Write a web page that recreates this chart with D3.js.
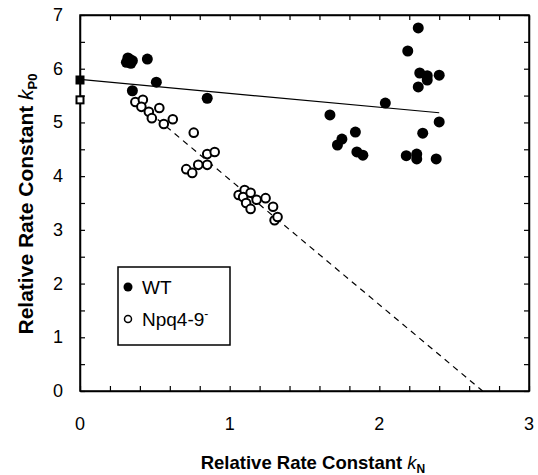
<!DOCTYPE html>
<html>
<head>
<meta charset="utf-8">
<script src="https://cdn.jsdelivr.net/npm/d3@7"></script>
<style>
  body { margin: 0; background: #fff; }
  text { font-family: "Liberation Sans", Arial, sans-serif; fill: #000; }
</style>
</head>
<body>
<svg id="chart" width="538" height="475"></svg>
<script>
// WT (filled circles) : kN, kP0
const wtKN = [0.31, 0.33, 0.35, 0.34, 0.32, 0.45, 0.51, 0.35, 0.85,
  2.26, 2.19, 2.27, 2.32, 2.32, 2.40, 2.26, 2.04, 1.67, 2.40, 1.84, 2.29,
  1.75, 1.72, 1.85, 1.89, 2.18, 2.25, 2.25, 2.38];
const wtKP0 = [6.12, 6.18, 6.15, 6.10, 6.20, 6.18, 5.75, 5.59, 5.45,
  6.76, 6.33, 5.92, 5.87, 5.79, 5.88, 5.66, 5.36, 5.14, 5.01, 4.82, 4.80,
  4.69, 4.58, 4.45, 4.39, 4.38, 4.41, 4.32, 4.32];

// Npq4-9 (open circles)
const npqKN = [0.37, 0.42, 0.41, 0.46, 0.48, 0.53, 0.56, 0.62, 0.76, 0.85, 0.90,
  0.71, 0.75, 0.79, 0.85, 1.06, 1.10, 1.09, 1.14, 1.11, 1.14, 1.18,
  1.24, 1.29, 1.30, 1.32];
const npqKP0 = [5.38, 5.42, 5.29, 5.20, 5.08, 5.27, 4.97, 5.06, 4.81, 4.41, 4.45,
  4.13, 4.06, 4.21, 4.21, 3.65, 3.74, 3.61, 3.69, 3.50, 3.39, 3.56,
  3.59, 3.43, 3.18, 3.24];

// values at kN = 0 (squares)
const wtZero = 5.79;
const npqZero = 5.42;

// fitted lines [x0, y0, x1, y1]
const wtFit = [0, 5.80, 2.40, 5.18];
const npqFit = [0.35, 5.45, 2.69, 0.0];

const xTicks = [0, 1, 2, 3];
const yTicks = [0, 1, 2, 3, 4, 5, 6, 7];

const svg = d3.select("#chart");
const plot = { left: 80, right: 529, top: 15, bottom: 391 };

const x = d3.scaleLinear().domain([0, 3]).range([plot.left, plot.right]);
const y = d3.scaleLinear().domain([0, 7]).range([plot.bottom, plot.top]);

/* axes */

const tickLen = 5;
const xMinor = d3.range(0, 3.0001, 0.2);
const yMinor = d3.range(0, 7.0001, 0.5);

svg.append("g")
  .attr("transform", `translate(0,${plot.bottom})`)
  .call(d3.axisBottom(x).tickValues(xMinor).tickSizeInner(-tickLen).tickSizeOuter(0).tickFormat(""));
svg.append("g")
  .attr("transform", `translate(0,${plot.top})`)
  .call(d3.axisTop(x).tickValues(xMinor).tickSizeInner(-tickLen).tickSizeOuter(0).tickFormat(""));
svg.append("g")
  .attr("transform", `translate(${plot.left},0)`)
  .call(d3.axisLeft(y).tickValues(yMinor).tickSizeInner(-tickLen).tickSizeOuter(0).tickFormat(""));
svg.append("g")
  .attr("transform", `translate(${plot.right},0)`)
  .call(d3.axisRight(y).tickValues(yMinor).tickSizeInner(-tickLen).tickSizeOuter(0).tickFormat(""));

svg.selectAll(".domain").attr("stroke", "#000").attr("stroke-width", 1.5);
svg.selectAll(".tick line").attr("stroke", "#000").attr("stroke-width", 1.2);

svg.append("rect")
  .attr("x", plot.left).attr("y", plot.top)
  .attr("width", plot.right - plot.left).attr("height", plot.bottom - plot.top)
  .attr("fill", "none").attr("stroke", "#000").attr("stroke-width", 1.5);

svg.append("g").selectAll("text")
  .data(xTicks).enter().append("text")
  .attr("x", d => x(d)).attr("y", 430)
  .attr("text-anchor", "middle").attr("font-size", 18)
  .text(d => d);

svg.append("g").selectAll("text")
  .data(yTicks).enter().append("text")
  .attr("x", 63).attr("y", d => y(d) + 6)
  .attr("text-anchor", "end").attr("font-size", 18)
  .text(d => d);

/* titles */

const xTitle = svg.append("text")
  .attr("x", 313).attr("y", 469)
  .attr("text-anchor", "middle").attr("font-size", 18.5).attr("font-weight", "bold");
xTitle.append("tspan").text("Relative Rate Constant ");
xTitle.append("tspan").attr("font-style", "italic").attr("font-weight", "normal").text("k");
xTitle.append("tspan").attr("font-size", 12).attr("dy", 4).text("N");

const yTitle = svg.append("text")
  .attr("transform", "translate(33,204) rotate(-90)")
  .attr("text-anchor", "middle").attr("font-size", 21).attr("font-weight", "bold");
yTitle.append("tspan").text("Relative Rate Constant ");
yTitle.append("tspan").attr("font-style", "italic").attr("font-weight", "normal").text("k");
yTitle.append("tspan").attr("font-size", 13).attr("dy", 4).text("P0");

/* fit lines */

svg.append("line")
  .attr("x1", x(wtFit[0])).attr("y1", y(wtFit[1]))
  .attr("x2", x(wtFit[2])).attr("y2", y(wtFit[3]))
  .attr("stroke", "#000").attr("stroke-width", 1.2);

svg.append("line")
  .attr("x1", x(npqFit[0])).attr("y1", y(npqFit[1]))
  .attr("x2", x(npqFit[2])).attr("y2", y(npqFit[3]))
  .attr("stroke", "#000").attr("stroke-width", 1.2)
  .attr("stroke-dasharray", "6,5");

/* points */

svg.append("g").selectAll("circle")
  .data(npqKN).enter().append("circle")
  .attr("cx", d => x(d)).attr("cy", (d, i) => y(npqKP0[i]))
  .attr("r", 4.3)
  .attr("fill", "#fff").attr("stroke", "#000").attr("stroke-width", 2);

svg.append("g").selectAll("circle")
  .data(wtKN).enter().append("circle")
  .attr("cx", d => x(d)).attr("cy", (d, i) => y(wtKP0[i]))
  .attr("r", 5.5)
  .attr("fill", "#000");

const sq = 9;
svg.append("rect")
  .attr("x", x(0) - sq / 2).attr("y", y(wtZero) - sq / 2)
  .attr("width", sq).attr("height", sq).attr("fill", "#000");
svg.append("rect")
  .attr("x", x(0) - sq / 2 + 1).attr("y", y(npqZero) - sq / 2 + 1)
  .attr("width", sq - 2).attr("height", sq - 2)
  .attr("fill", "#fff").attr("stroke", "#000").attr("stroke-width", 2);

/* legend */

const legend = svg.append("g");
legend.append("rect")
  .attr("x", 118).attr("y", 267).attr("width", 112).attr("height", 78)
  .attr("fill", "#fff").attr("stroke", "#000").attr("stroke-width", 1.5);
legend.append("circle").attr("cx", 128).attr("cy", 287).attr("r", 4.5).attr("fill", "#000");
legend.append("text").attr("x", 142).attr("y", 294).attr("font-size", 19).text("WT");
legend.append("circle").attr("cx", 128).attr("cy", 319).attr("r", 3.5)
  .attr("fill", "#fff").attr("stroke", "#000").attr("stroke-width", 1.5);
const npqLabel = legend.append("text").attr("x", 142).attr("y", 326).attr("font-size", 19);
npqLabel.append("tspan").text("Npq4-9");
npqLabel.append("tspan").attr("font-size", 12).attr("dy", -8).text("-");
</script>
</body>
</html>
